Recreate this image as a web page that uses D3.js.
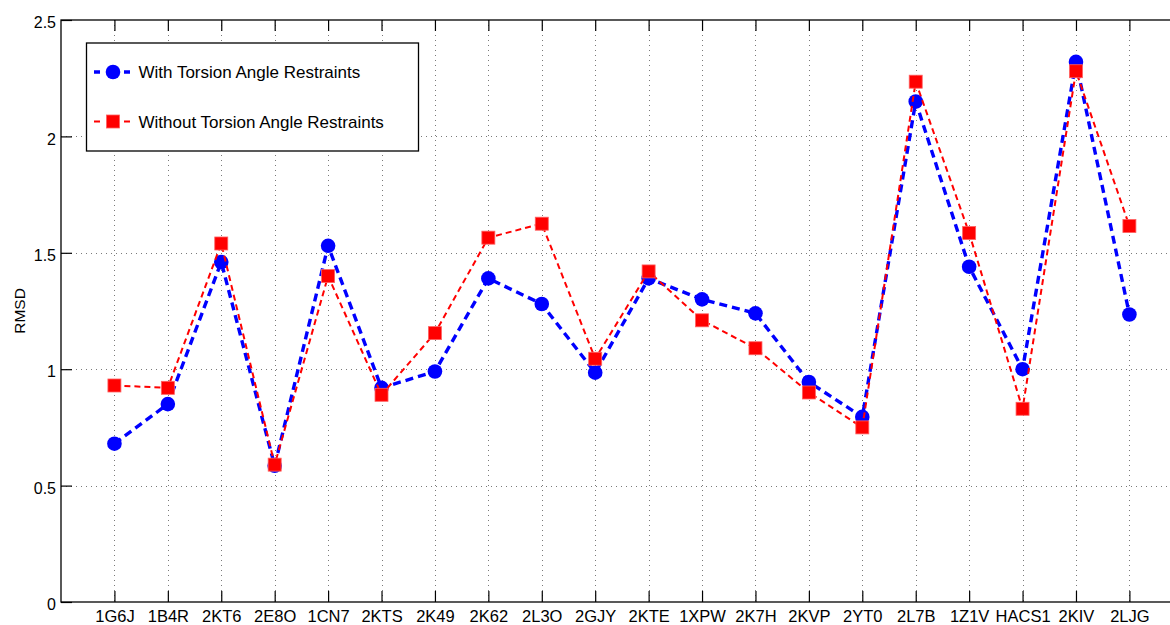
<!DOCTYPE html>
<html>
<head>
<meta charset="utf-8">
<script src="https://cdn.jsdelivr.net/npm/d3@7"></script>
<style>
  html, body { margin: 0; padding: 0; background: #fff; }
  svg { display: block; }
  text { font-family: "Liberation Sans", Arial, Helvetica, sans-serif; fill: #000; }
</style>
</head>
<body>
<svg id="chart" width="1170" height="625"></svg>
<script>
// Protein structures (x categories)
const structures = ["1G6J", "1B4R", "2KT6", "2E8O", "1CN7", "2KTS", "2K49", "2K62", "2L3O", "2GJY",
                    "2KTE", "1XPW", "2K7H", "2KVP", "2YT0", "2L7B", "1Z1V", "HACS1", "2KIV", "2LJG"];

// RMSD values per structure
const withRestraints = [0.68, 0.85, 1.46, 0.585, 1.53, 0.92, 0.99, 1.39, 1.28, 0.985,
                        1.39, 1.30, 1.24, 0.945, 0.795, 2.15, 1.44, 1.00, 2.32, 1.235];
const withoutRestraints = [0.93, 0.92, 1.54, 0.59, 1.40, 0.89, 1.155, 1.565, 1.625, 1.045,
                           1.42, 1.21, 1.09, 0.90, 0.75, 2.235, 1.585, 0.83, 2.28, 1.615];

const yTicks = [0, 0.5, 1, 1.5, 2, 2.5];
const seriesNames = ["With Torsion Angle Restraints", "Without Torsion Angle Restraints"];

const svg = d3.select("#chart");

const plotLeft = 61, plotTop = 20, plotBottom = 602;
const step = 53.42;
const x = d3.scaleLinear().domain([0, structures.length + 1]).range([plotLeft, plotLeft + step * (structures.length + 1)]);
const y = d3.scaleLinear().domain([0, 2.5]).range([plotBottom, plotTop]);
const plotRight = x(structures.length + 1);

const idx = d3.range(1, structures.length + 1);

// grid
const grid = svg.append("g").attr("stroke", "#7a7a7a").attr("stroke-width", 1).attr("stroke-dasharray", "1,4");
grid.selectAll("line.gx").data(idx).join("line")
  .attr("x1", d => Math.round(x(d)) + 0.5).attr("x2", d => Math.round(x(d)) + 0.5)
  .attr("y1", plotTop).attr("y2", plotBottom);
grid.selectAll("line.gy").data(yTicks.slice(1, -1)).join("line")
  .attr("y1", d => Math.round(y(d)) + 0.5).attr("y2", d => Math.round(y(d)) + 0.5)
  .attr("x1", plotLeft).attr("x2", plotRight);

// axes box
svg.append("rect").attr("x", plotLeft).attr("y", plotTop)
  .attr("width", plotRight - plotLeft).attr("height", plotBottom - plotTop)
  .attr("fill", "none").attr("stroke", "#000").attr("stroke-width", 1.3);

// x axis (bottom) with inward ticks; mirrored ticks on top
const xAxis = d3.axisBottom(x).tickValues(idx).tickFormat(d => structures[d - 1]).tickSizeInner(-11).tickSizeOuter(0);
const gx = svg.append("g").attr("transform", `translate(0,${plotBottom})`).call(xAxis);
gx.select(".domain").remove();
gx.selectAll(".tick line").attr("stroke", "#000").attr("stroke-width", 1.2);
gx.selectAll(".tick text").attr("font-size", "16.5px").attr("dy", null).attr("y", 19.5)
  .style("font-family", "'Liberation Sans', Arial, sans-serif");

const gxTop = svg.append("g").attr("transform", `translate(0,${plotTop})`)
  .call(d3.axisTop(x).tickValues(idx).tickFormat("").tickSizeInner(-11).tickSizeOuter(0));
gxTop.select(".domain").remove();
gxTop.selectAll(".tick line").attr("stroke", "#000").attr("stroke-width", 1.2);

// y axis with inward ticks
const yAxis = d3.axisLeft(y).tickValues(yTicks).tickFormat(d3.format("")).tickSizeInner(-11).tickSizeOuter(0);
const gy = svg.append("g").attr("transform", `translate(${plotLeft},0)`).call(yAxis);
gy.select(".domain").remove();
gy.selectAll(".tick line").attr("stroke", "#000").attr("stroke-width", 1.2);
gy.selectAll(".tick text").attr("font-size", "16px").attr("x", -5).attr("dy", "0.48em")
  .style("font-family", "'Liberation Sans', Arial, sans-serif");

const gyR = svg.append("g").attr("transform", `translate(${plotRight},0)`)
  .call(d3.axisRight(y).tickValues(yTicks).tickFormat("").tickSizeInner(-11).tickSizeOuter(0));
gyR.select(".domain").remove();
gyR.selectAll(".tick line").attr("stroke", "#000").attr("stroke-width", 1.2);

// y label
svg.append("text")
  .attr("transform", `translate(24.5,${(plotTop + plotBottom) / 2}) rotate(-90)`)
  .attr("text-anchor", "middle")
  .attr("font-size", "15.5px")
  .text("RMSD");

const line = d3.line().x((d, i) => x(i + 1)).y(d => y(d));

// series: with restraints (blue circles)
svg.append("path").datum(withRestraints)
  .attr("d", line).attr("fill", "none").attr("stroke", "#0000ff")
  .attr("stroke-width", 3.4).attr("stroke-dasharray", "8,5");
svg.append("g").selectAll("circle").data(withRestraints).join("circle")
  .attr("cx", (d, i) => x(i + 1)).attr("cy", d => y(d)).attr("r", 7.3)
  .attr("fill", "#0000ff");

// series: without restraints (red squares)
const sq = 13;
svg.append("path").datum(withoutRestraints)
  .attr("d", line).attr("fill", "none").attr("stroke", "#ff0000")
  .attr("stroke-width", 2).attr("stroke-dasharray", "6,4");
svg.append("g").selectAll("rect").data(withoutRestraints).join("rect")
  .attr("x", (d, i) => x(i + 1) - sq / 2).attr("y", d => y(d) - sq / 2)
  .attr("width", sq).attr("height", sq)
  .attr("fill", "#ff0000").attr("stroke", "#ff6060").attr("stroke-width", 0.8);

// legend
const lg = svg.append("g");
lg.append("rect").attr("x", 86.5).attr("y", 43).attr("width", 332).attr("height", 108)
  .attr("fill", "#fff").attr("stroke", "#000").attr("stroke-width", 1.3);

const legendRows = [
  { name: seriesNames[0], color: "#0000ff", cy: 72, marker: "circle", sw: 3.4, dash: "6,24" },
  { name: seriesNames[1], color: "#ff0000", cy: 121.5, marker: "square", sw: 2, dash: "6,24" }
];
legendRows.forEach(r => {
  lg.append("line").attr("x1", 94).attr("x2", 130).attr("y1", r.cy).attr("y2", r.cy)
    .attr("stroke", r.color).attr("stroke-width", r.sw).attr("stroke-dasharray", r.dash);
  if (r.marker === "circle") {
    lg.append("circle").attr("cx", 113).attr("cy", r.cy).attr("r", 7.3).attr("fill", r.color);
  } else {
    lg.append("rect").attr("x", 113 - sq / 2).attr("y", r.cy - sq / 2).attr("width", sq).attr("height", sq)
      .attr("fill", r.color).attr("stroke", "#ff6060").attr("stroke-width", 0.8);
  }
  lg.append("text").attr("x", 138.5).attr("y", r.cy + 6.3).attr("font-size", "17px").text(r.name);
});
</script>
</body>
</html>
